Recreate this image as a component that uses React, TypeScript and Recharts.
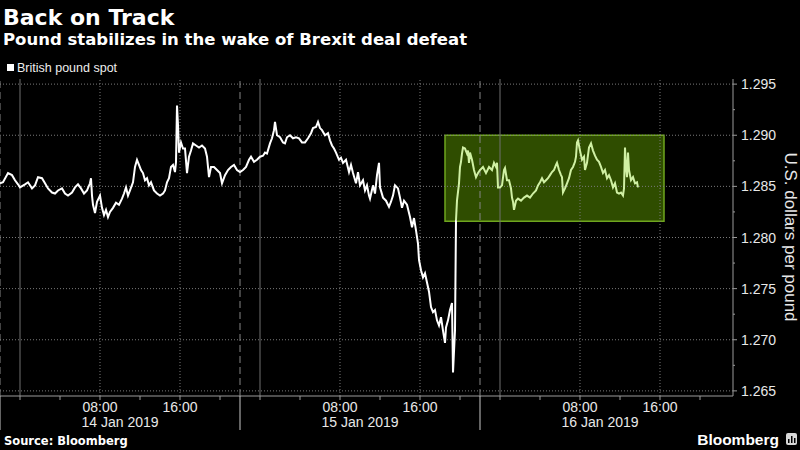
import React from 'react';
import {
  LineChart,
  Line,
  XAxis,
  YAxis,
  ReferenceLine,
  ReferenceArea,
} from 'recharts';

// hours counted from 13 Jan 22:00 (start of the 14 Jan trading session)
const whiteHours = [
  0.0, 0.3, 0.8, 1.2, 1.5, 1.8, 2.0, 2.5, 2.8, 3.2,
  3.5, 3.8, 4.2, 4.5, 4.8, 5.2, 5.5, 5.8, 6.2, 6.5,
  6.8, 7.2, 7.5, 7.8, 8.1, 8.4, 8.7, 9.0, 9.1, 9.2,
  9.3, 9.5, 9.7, 10.0, 10.2, 10.4, 10.6, 10.8, 11.0, 11.3,
  11.6, 11.9, 12.2, 12.4, 12.6, 12.8, 13.0, 13.3, 13.5, 13.7,
  13.9, 14.1, 14.3, 14.5, 14.7, 14.9, 15.1, 15.4, 15.7, 16.0,
  16.3, 16.5, 16.7, 16.9, 17.1, 17.3, 17.5, 17.6, 17.7, 17.8,
  17.9, 18.1, 18.3, 18.5, 18.7, 18.9, 19.1, 19.3, 19.6, 19.9,
  20.2, 20.5, 20.7, 20.9, 21.1, 21.4, 21.7, 22.0, 22.2, 22.5,
  22.8, 23.1, 23.4, 23.7, 24.0, 24.3, 24.6, 24.9, 25.1, 25.4,
  25.7, 26.0, 26.3, 26.5, 26.7, 27.0, 27.2, 27.4, 27.5, 27.7,
  28.0, 28.3, 28.5, 28.7, 29.0, 29.3, 29.6, 29.9, 30.2, 30.5,
  30.8, 31.1, 31.3, 31.6, 31.8, 32.0, 32.2, 32.5, 32.8, 33.0,
  33.2, 33.4, 33.6, 33.9, 34.1, 34.3, 34.6, 34.9, 35.1, 35.3,
  35.6, 35.8, 36.0, 36.3, 36.5, 36.7, 36.9, 37.0, 37.3, 37.5,
  37.7, 37.9, 38.0, 38.3, 38.6, 38.9, 39.1, 39.3, 39.5, 39.8,
  40.0, 40.2, 40.4, 40.7, 41.0, 41.2, 41.4, 41.6, 41.8, 41.9,
  42.1, 42.3, 42.5, 42.7, 42.9, 43.1, 43.3, 43.5, 43.7, 43.9,
  44.1, 44.3, 44.5, 44.6, 44.8, 45.0, 45.2, 45.3, 45.5, 45.6,
];
const whitePrices = [
  1.2853, 1.2854, 1.2863, 1.2861, 1.2856, 1.2852, 1.2849, 1.2852, 1.2854, 1.2848,
  1.2851, 1.2859, 1.2858, 1.2853, 1.2848, 1.2844, 1.2843, 1.2846, 1.2848, 1.2843,
  1.2841, 1.2844, 1.2849, 1.2852, 1.2848, 1.2843, 1.2846, 1.2853, 1.2858, 1.2841,
  1.2832, 1.2824, 1.2835, 1.2841, 1.2829, 1.2822, 1.2827, 1.2820, 1.2825, 1.2829,
  1.2834, 1.2832, 1.2838, 1.2843, 1.2849, 1.2841, 1.2846, 1.2854, 1.2869, 1.2876,
  1.2871, 1.2866, 1.2863, 1.2856, 1.2858, 1.2851, 1.2854, 1.2846, 1.2843, 1.2841,
  1.2843, 1.2846, 1.2854, 1.2858, 1.2869, 1.2871, 1.2864, 1.2874, 1.2929, 1.2910,
  1.2883, 1.2893, 1.2887, 1.2887, 1.2863, 1.2879, 1.2885, 1.2892, 1.2890, 1.2888,
  1.2890, 1.2887, 1.2879, 1.2859, 1.2869, 1.2869, 1.2866, 1.2863, 1.2853, 1.2861,
  1.2866, 1.2869, 1.2871, 1.2866, 1.2864, 1.2866, 1.2869, 1.2876, 1.2879, 1.2874,
  1.2876, 1.2879, 1.2880, 1.2883, 1.2882, 1.2892, 1.2897, 1.2905, 1.2913, 1.2900,
  1.2898, 1.2893, 1.2892, 1.2898, 1.2900, 1.2897, 1.2898, 1.2897, 1.2893, 1.2893,
  1.2897, 1.2902, 1.2907, 1.2908, 1.2913, 1.2907, 1.2905, 1.2900, 1.2902, 1.2895,
  1.2890, 1.2887, 1.2883, 1.2876, 1.2878, 1.2873, 1.2876, 1.2864, 1.2871, 1.2863,
  1.2853, 1.2864, 1.2851, 1.2856, 1.2846, 1.2851, 1.2841, 1.2838, 1.2851, 1.2843,
  1.2861, 1.2873, 1.2849, 1.2839, 1.2836, 1.2830, 1.2835, 1.2841, 1.2851, 1.2848,
  1.2839, 1.2829, 1.2836, 1.2832, 1.2820, 1.2810, 1.2819, 1.2807, 1.2794, 1.2778,
  1.2768, 1.2761, 1.2765, 1.2756, 1.2747, 1.2732, 1.2727, 1.2729, 1.2719, 1.2714,
  1.2722, 1.2709, 1.2697, 1.2712, 1.2719, 1.2729, 1.2736, 1.2668, 1.2709, 1.2817,
];

// highlighted stretch after the rebound
const greenHours = [
  45.6, 45.7, 45.9, 46.0, 46.1, 46.2, 46.3, 46.5, 46.7, 46.8,
  46.9, 47.0, 47.2, 47.4, 47.6, 47.8, 48.0, 48.3, 48.6, 48.9,
  49.2, 49.4, 49.6, 49.7, 49.8, 50.0, 50.2, 50.4, 50.5, 50.7,
  50.9, 51.1, 51.2, 51.3, 51.4, 51.6, 51.8, 52.1, 52.4, 52.7,
  53.0, 53.3, 53.6, 53.8, 54.0, 54.2, 54.4, 54.6, 54.8, 55.0,
  55.2, 55.4, 55.6, 55.7, 55.9, 56.1, 56.2, 56.3, 56.5, 56.7,
  56.9, 57.1, 57.3, 57.5, 57.6, 57.7, 57.8, 58.0, 58.2, 58.4,
  58.5, 58.7, 58.9, 59.1, 59.3, 59.5, 59.7, 59.9, 60.1, 60.3,
  60.5, 60.7, 60.9, 61.1, 61.3, 61.5, 61.7, 61.9, 62.1, 62.3,
  62.4, 62.5, 62.6, 62.7, 62.8, 62.9, 63.1, 63.3, 63.5, 63.7,
  63.8,
];
const greenPrices = [
  1.2817, 1.2836, 1.2853, 1.2869, 1.2874, 1.2882, 1.2888, 1.2887, 1.2882, 1.2885,
  1.2873, 1.2883, 1.2876, 1.2866, 1.2859, 1.2863, 1.2866, 1.2869, 1.2863, 1.2869,
  1.2866, 1.2873, 1.2869, 1.2873, 1.2849, 1.2849, 1.2851, 1.2866, 1.2868, 1.2856,
  1.2856, 1.2848, 1.2839, 1.2835, 1.2827, 1.2836, 1.2838, 1.2836, 1.2839, 1.2841,
  1.2839, 1.2843, 1.2846, 1.2851, 1.2854, 1.2858, 1.2854, 1.2856, 1.2858, 1.2861,
  1.2864, 1.2866, 1.2871, 1.2873, 1.2866, 1.2861, 1.2859, 1.2844, 1.2848, 1.2853,
  1.2858, 1.2866, 1.2869, 1.2874, 1.2879, 1.2893, 1.2895, 1.2885, 1.2876, 1.2879,
  1.2866, 1.2873, 1.2888, 1.2892, 1.2885, 1.2880, 1.2876, 1.2874, 1.2869, 1.2863,
  1.2866, 1.2858, 1.2861, 1.2856, 1.2849, 1.2853, 1.2844, 1.2843, 1.2844, 1.2841,
  1.2848, 1.2888, 1.2869, 1.2859, 1.2883, 1.2866, 1.2856, 1.2859, 1.2853, 1.2854,
  1.2849,
];

const hourTicks = [
  0, 2, 4, 6, 8, 10, 12, 14, 16, 18, 20, 22, 24, 26, 28, 30, 32, 34, 36,
  38, 40, 42, 44, 46, 48, 50, 52, 54, 56, 58, 60, 62, 64, 66, 68, 70, 72,
];
const dayLabels = ['14 Jan 2019', '15 Jan 2019', '16 Jan 2019'];
const sessionBreaks = [0, 24, 48];
const midnights = [2, 26, 50];
const clockMarks = [10, 18, 34, 42, 58, 66];

const priceTicks = [
  1.265, 1.2675, 1.27, 1.2725, 1.275, 1.2775, 1.28,
  1.2825, 1.285, 1.2875, 1.29, 1.2925, 1.295,
];
const priceGrid = [1.265, 1.27, 1.275, 1.28, 1.285, 1.29, 1.295];

// band drawn around the post-vote range
const bandHours = [44.5, 66.4];
const bandPrices = [1.2816, 1.29];

const whiteData = whiteHours.map((hour, i) => ({ hour, price: whitePrices[i] }));
const greenData = greenHours.map((hour, i) => ({ hour, price: greenPrices[i] }));

const tickFont = '"Liberation Sans", Arial, sans-serif';
const axisGrey = '#9a9a9a';
const gridGrey = '#7a7a7a';

function HourTick({ x, y, payload }: any) {
  const t = payload.value;
  const clock = (22 + t) % 24;
  const day = Math.floor(t / 24);
  return (
    <g>
      {clock % 4 === 0 && (
        <line x1={x} x2={x} y1={y} y2={y + 4} stroke={axisGrey} />
      )}
      {clock === 22 && t < 72 && (
        <line x1={x} x2={x} y1={y} y2={y + 34} stroke="#c8c8c8" />
      )}
      {(clock === 8 || clock === 16) && (
        <text
          x={x}
          y={y + 16}
          textAnchor="middle"
          fill="#e8e8e8"
          fontSize={14}
          fontFamily={tickFont}
        >
          {clock === 8 ? '08:00' : '16:00'}
        </text>
      )}
      {clock === 10 && (
        <text
          x={x}
          y={y + 31}
          textAnchor="middle"
          fill="#e8e8e8"
          fontSize={14}
          fontFamily={tickFont}
        >
          {dayLabels[day]}
        </text>
      )}
    </g>
  );
}

function PriceTick({ x, y, payload }: any) {
  const v = payload.value;
  const major = Math.round(v * 10000) % 50 === 0;
  return (
    <g>
      <line x1={x} x2={x + (major ? 4 : 2)} y1={y} y2={y} stroke={axisGrey} />
      {major && (
        <text
          x={x + 8}
          y={y + 5}
          fill="#e8e8e8"
          fontSize={14}
          fontFamily={tickFont}
        >
          {v.toFixed(3)}
        </text>
      )}
    </g>
  );
}

export default function App() {
  return (
    <div
      style={{
        position: 'absolute',
        left: 0,
        top: 0,
        width: 800,
        height: 450,
        background: '#000',
        overflow: 'hidden',
      }}
    >
      <LineChart
        width={800}
        height={450}
        margin={{ top: 79, right: 0, bottom: 0, left: 0 }}
      >
        <XAxis
          dataKey="hour"
          type="number"
          domain={[0, 73.3]}
          ticks={hourTicks}
          interval={0}
          height={54}
          tickSize={0}
          tickMargin={0}
          tickLine={false}
          axisLine={{ stroke: axisGrey }}
          tick={<HourTick />}
          allowDataOverflow
        />
        <YAxis
          orientation="right"
          type="number"
          domain={[1.2645, 1.2955]}
          ticks={priceTicks}
          interval={0}
          width={67}
          tickSize={0}
          tickMargin={0}
          tickLine={false}
          axisLine={{ stroke: axisGrey }}
          tick={<PriceTick />}
          allowDataOverflow
        />
        <ReferenceArea
          x1={bandHours[0]}
          x2={bandHours[1]}
          y1={bandPrices[0]}
          y2={bandPrices[1]}
          fill="#2f4d00"
          fillOpacity={1}
          stroke="#6fa51e"
          strokeWidth={1.5}
        />
        {priceGrid.map(p => (
          <ReferenceLine key={'p' + p} y={p} stroke={gridGrey} strokeDasharray="1 2" />
        ))}
        {clockMarks.map(h => (
          <ReferenceLine key={'c' + h} x={h} stroke={gridGrey} strokeDasharray="1 2" />
        ))}
        {midnights.map(h => (
          <ReferenceLine key={'m' + h} x={h} stroke="#707070" />
        ))}
        {sessionBreaks.map(h => (
          <ReferenceLine key={'s' + h} x={h} stroke="#858585" strokeDasharray="7 4" />
        ))}
        <Line
          data={whiteData}
          dataKey="price"
          type="linear"
          stroke="#ffffff"
          strokeWidth={2}
          dot={false}
          isAnimationActive={false}
        />
        <Line
          data={greenData}
          dataKey="price"
          type="linear"
          stroke="#d0f0a4"
          strokeWidth={2}
          dot={false}
          isAnimationActive={false}
        />
      </LineChart>
      <svg
        width={800}
        height={450}
        style={{ position: 'absolute', left: 0, top: 0, pointerEvents: 'none' }}
      >
        <text x={3} y={25} fill="#fff" fontSize={22} fontWeight="bold" fontFamily='"DejaVu Sans", sans-serif'>
          Back on Track
        </text>
        <text x={3} y={45} fill="#fff" fontSize={16.5} fontWeight="bold" fontFamily='"DejaVu Sans", sans-serif'>
          Pound stabilizes in the wake of Brexit deal defeat
        </text>
        <rect x={7} y={64} width={7} height={7} fill="#fff" />
        <text x={17} y={71.5} fill="#eee" fontSize={12.5} fontFamily={tickFont}>
          British pound spot
        </text>
        <text
          x={785}
          y={237}
          fill="#e8e8e8"
          fontSize={17}
          fontFamily={tickFont}
          textAnchor="middle"
          transform="rotate(90, 785, 237)"
        >
          U.S. dollars per pound
        </text>
        <text x={4} y={445} fill="#fff" fontSize={11.5} fontWeight="bold" fontFamily='"DejaVu Sans", sans-serif'>
          Source: Bloomberg
        </text>
        <text x={779} y={445} fill="#fff" fontSize={15.5} fontWeight="bold" fontFamily={tickFont} textAnchor="end">
          Bloomberg
        </text>
        <rect x={786} y={433} width={11} height={12} rx={2} fill="#d8d8d8" />
        <rect x={788} y={439} width={1.5} height={4} fill="#000" />
        <rect x={791} y={436} width={1.5} height={7} fill="#000" />
        <rect x={794} y={438} width={1.5} height={5} fill="#000" />
      </svg>
    </div>
  );
}
